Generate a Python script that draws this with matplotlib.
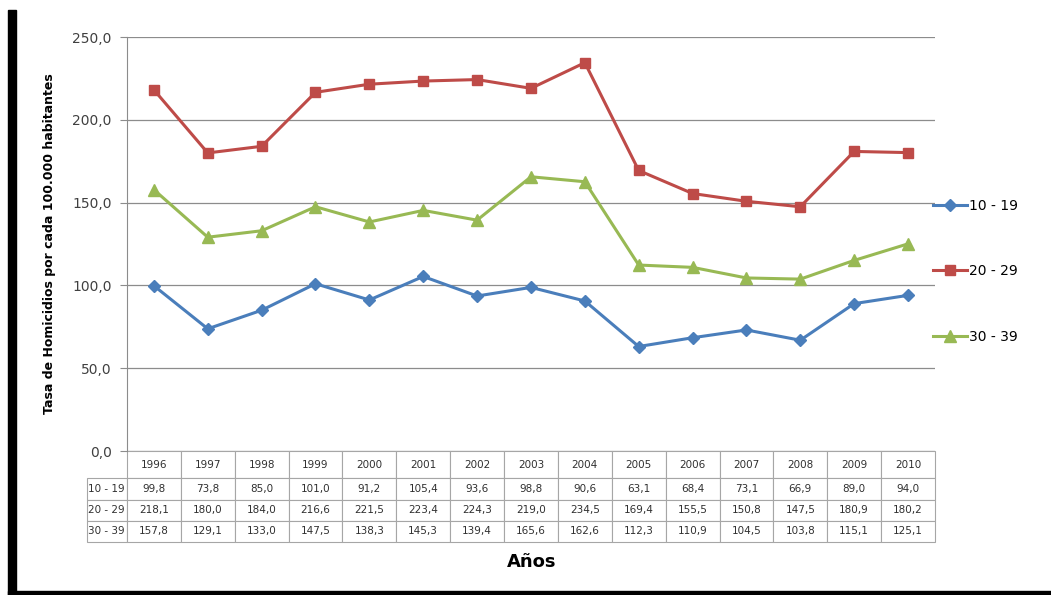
import numpy as np
import matplotlib.pyplot as plt
from matplotlib.patches import Rectangle

years = ["1996", "1997", "1998", "1999", "2000", "2001", "2002", "2003",
         "2004", "2005", "2006", "2007", "2008", "2009", "2010"]
series_names = ["10 - 19", "20 - 29", "30 - 39"]
g10_19 = [99.8, 73.8, 85.0, 101.0, 91.2, 105.4, 93.6, 98.8, 90.6, 63.1, 68.4, 73.1, 66.9, 89.0, 94.0]
g20_29 = [218.1, 180.0, 184.0, 216.6, 221.5, 223.4, 224.3, 219.0, 234.5, 169.4, 155.5, 150.8, 147.5, 180.9, 180.2]
g30_39 = [157.8, 129.1, 133.0, 147.5, 138.3, 145.3, 139.4, 165.6, 162.6, 112.3, 110.9, 104.5, 103.8, 115.1, 125.1]
yticks = [0, 50, 100, 150, 200, 250]

colors = ["#4A7EBB", "#BE4B48", "#98B954"]
markers = ["D", "s", "^"]
msizes = [6.5, 7.5, 8.5]

def fmt(v):
    return ("%.1f" % v).replace(".", ",")

fig = plt.figure(figsize=(10.51, 5.95), dpi=100)
ax = fig.add_axes([0.1208, 0.242, 0.7688, 0.6958])

x = np.arange(len(years))
for vals, c, m, ms, name in zip([g10_19, g20_29, g30_39], colors, markers, msizes, series_names):
    ax.plot(x, vals, color=c, lw=2.2, marker=m, ms=ms, mec=c, mfc=c, label=name, zorder=3)

ax.set_xlim(-0.5, len(years) - 0.5)
ax.set_ylim(0, 250)
ax.set_yticks(yticks)
ax.set_yticklabels([fmt(v) for v in yticks], fontsize=10, color="#404040")
ax.set_xticks([])
ax.yaxis.grid(True, color="#8c8c8c", lw=0.9)
ax.set_axisbelow(True)
for s in ["top", "right", "bottom"]:
    ax.spines[s].set_visible(False)
ax.spines["left"].set_color("#8c8c8c")
ax.tick_params(axis="y", length=5, color="#8c8c8c", pad=6)
ax.set_ylabel("Tasa de Homicidios por cada 100.000 habitantes", fontsize=9,
              fontweight="bold", labelpad=12)

# data table under the plot
table_rows = [g10_19, g20_29, g30_39]
cell_text = [[""] + years] + [[n] + [fmt(v) for v in r] for n, r in zip(series_names, table_rows)]
lab_w = 40 / 808 * 15
col_w = [lab_w] + [1.0] * len(years)
tbl = ax.table(cellText=cell_text, colWidths=col_w, cellLoc="center",
               bbox=[-40 / 808, -91 / 414, 848 / 808, 91 / 414])
tbl.auto_set_font_size(False)
tbl.set_fontsize(7.5)
for (r, c), cell in tbl.get_celld().items():
    cell.set_edgecolor("#a6a6a6")
    cell.set_linewidth(0.8)
    cell.get_text().set_color("#303030")
    if r == 0:
        cell.set_height(cell.get_height() * 27 / 21)
    if c == 0:
        cell.get_text().set_horizontalalignment("left")
        cell.PAD = 0.02
    if r == 0 and c == 0:
        cell.visible_edges = ""

fig.text(0.506, 0.055, "Años", ha="center", va="center", fontsize=13, fontweight="bold")

ax.legend(loc="center left", bbox_to_anchor=(0.876, 0.544), bbox_transform=fig.transFigure,
          frameon=False, fontsize=10, handlelength=2.4, handletextpad=0.2,
          labelspacing=3.7)

# black frame pieces
fig.patches.append(Rectangle((8 / 1051, 0), 8 / 1051, 585 / 595, transform=fig.transFigure,
                             color="black", zorder=10))
fig.patches.append(Rectangle((8 / 1051, 0.5 / 595), 1043 / 1051, 4 / 595, transform=fig.transFigure,
                             color="black", zorder=10))

fig.savefig("out.png", dpi=100)
